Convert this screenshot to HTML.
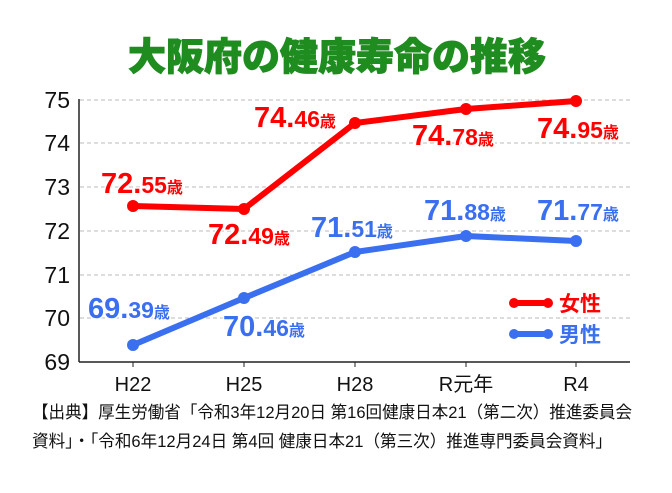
<!DOCTYPE html>
<html><head><meta charset="utf-8"><style>
body{margin:0;background:#fff;width:672px;height:488px;overflow:hidden}
svg text{font-family:"Liberation Sans","Noto Sans CJK JP",sans-serif}
</style></head><body>
<svg width="672" height="488" viewBox="0 0 672 488">
<text x="337" y="70" text-anchor="middle" font-size="38" font-weight="900" fill="#1f8c1f" stroke="#1f8c1f" stroke-width="1" style="font-family:'Noto Sans CJK JP',sans-serif">大阪府の健康寿命の推移</text>
<g stroke="#bbb" stroke-dasharray="4,3" stroke-width="1">
<line x1="80" x2="630" y1="100" y2="100"/><line x1="80" x2="630" y1="143" y2="143"/><line x1="80" x2="630" y1="187" y2="187"/><line x1="80" x2="630" y1="231" y2="231"/><line x1="80" x2="630" y1="275" y2="275"/><line x1="80" x2="630" y1="318" y2="318"/>
</g>
<line x1="79" y1="99" x2="79" y2="362" stroke="#222" stroke-width="1.5"/>
<line x1="79" y1="362" x2="630" y2="362" stroke="#222" stroke-width="1.5"/>
<g stroke="#222"><line x1="133" x2="133" y1="362" y2="367"/><line x1="244" x2="244" y1="362" y2="367"/><line x1="355" x2="355" y1="362" y2="367"/><line x1="466" x2="466" y1="362" y2="367"/><line x1="576" x2="576" y1="362" y2="367"/></g>
<g font-size="23" fill="#111" text-anchor="end">
<text x="70" y="108">75</text><text x="70" y="151">74</text><text x="70" y="195">73</text><text x="70" y="239">72</text><text x="70" y="283">71</text><text x="70" y="326">70</text><text x="70" y="370">69</text>
</g>
<g font-size="20" fill="#111" text-anchor="middle">
<text x="133" y="391">H22</text><text x="244" y="391">H25</text><text x="355" y="391">H28</text><text x="466" y="391">R元年</text><text x="576" y="391">R4</text>
</g>
<polyline points="133,206 244,209 355,123 466,109 576,101" fill="none" stroke="#f00" stroke-width="6" stroke-linejoin="round"/>
<g fill="#f00"><circle cx="133" cy="206" r="6"/><circle cx="244" cy="209" r="6"/><circle cx="355" cy="123" r="6"/><circle cx="466" cy="109" r="6"/><circle cx="576" cy="101" r="6"/></g>
<polyline points="133,345 244,298 355,252 466,236 576,241" fill="none" stroke="#3a6ff0" stroke-width="6" stroke-linejoin="round"/>
<g fill="#3a6ff0"><circle cx="133" cy="345" r="6"/><circle cx="244" cy="298" r="6"/><circle cx="355" cy="252" r="6"/><circle cx="466" cy="236" r="6"/><circle cx="576" cy="241" r="6"/></g>
<g font-weight="bold" stroke="#fff" stroke-width="3" paint-order="stroke">
<g fill="#f00">
<text x="101" y="193"><tspan font-size="29">72.</tspan><tspan font-size="23">55</tspan><tspan font-size="16">歳</tspan></text>
<text x="208" y="244"><tspan font-size="29">72.</tspan><tspan font-size="23">49</tspan><tspan font-size="16">歳</tspan></text>
<text x="254" y="127"><tspan font-size="29">74.</tspan><tspan font-size="23">46</tspan><tspan font-size="16">歳</tspan></text>
<text x="412" y="145"><tspan font-size="29">74.</tspan><tspan font-size="23">78</tspan><tspan font-size="16">歳</tspan></text>
<text x="537" y="138"><tspan font-size="29">74.</tspan><tspan font-size="23">95</tspan><tspan font-size="16">歳</tspan></text>
</g>
<g fill="#3a6ff0">
<text x="88" y="318"><tspan font-size="29">69.</tspan><tspan font-size="23">39</tspan><tspan font-size="16">歳</tspan></text>
<text x="223" y="336"><tspan font-size="29">70.</tspan><tspan font-size="23">46</tspan><tspan font-size="16">歳</tspan></text>
<text x="311" y="237"><tspan font-size="29">71.</tspan><tspan font-size="23">51</tspan><tspan font-size="16">歳</tspan></text>
<text x="424" y="220"><tspan font-size="29">71.</tspan><tspan font-size="23">88</tspan><tspan font-size="16">歳</tspan></text>
<text x="537" y="220"><tspan font-size="29">71.</tspan><tspan font-size="23">77</tspan><tspan font-size="16">歳</tspan></text>
</g>
</g>
<line x1="514" x2="548" y1="303" y2="303" stroke="#f00" stroke-width="6"/><circle cx="514" cy="303" r="5" fill="#f00"/><circle cx="548" cy="303" r="5" fill="#f00"/>
<text x="559" y="311" font-size="21" font-weight="bold" fill="#f00">女性</text>
<line x1="514" x2="548" y1="334" y2="334" stroke="#3a6ff0" stroke-width="6"/><circle cx="514" cy="334" r="5" fill="#3a6ff0"/><circle cx="548" cy="334" r="5" fill="#3a6ff0"/>
<text x="559" y="342" font-size="21" font-weight="bold" fill="#3a6ff0">男性</text>
<g font-size="17" fill="#111">
<text x="32" y="418" textLength="600" lengthAdjust="spacingAndGlyphs">【出典】厚生労働省「令和3年12月20日 第16回健康日本21（第二次）推進委員会</text>
<text x="32" y="447" textLength="580" lengthAdjust="spacingAndGlyphs">資料」・「令和6年12月24日 第4回 健康日本21（第三次）推進専門委員会資料」</text>
</g>
</svg>
</body></html>
